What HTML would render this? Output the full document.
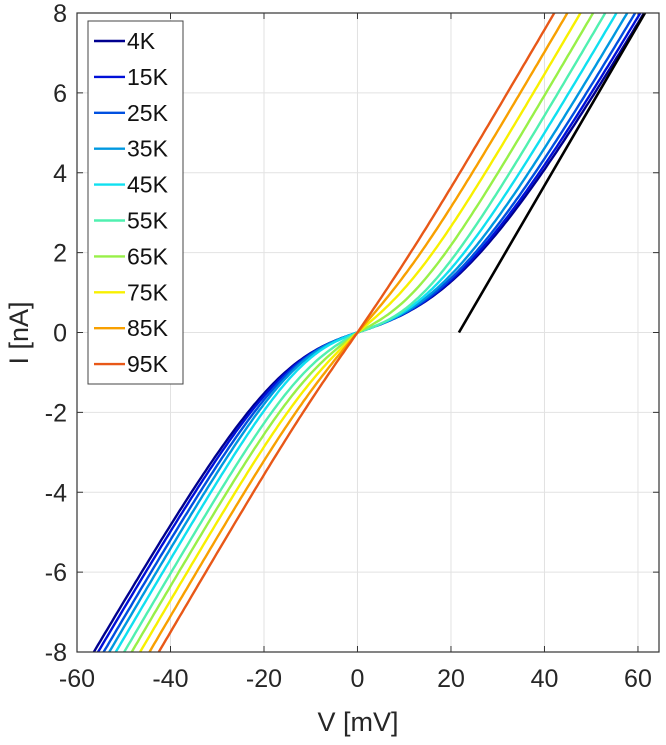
<!DOCTYPE html>
<html><head><meta charset="utf-8"><style>
html,body{margin:0;padding:0;background:#fff;width:666px;height:745px;overflow:hidden;}
svg{display:block;font-family:"Liberation Sans",Arial,sans-serif;}
</style></head><body>
<svg id="chart" width="666" height="745" viewBox="0 0 666 745"></svg>
<script>
const temps=["4K","15K","25K","35K","45K","55K","65K","75K","85K","95K"];
const colors=["#00008f","#0010d8","#0050e0","#0098e0","#10e0f0","#50f0b0","#98f048","#f8f000","#f8a000","#e85818"];
// voltage where each curve reaches +8 nA and -8 nA
const vAtPlus8=[61.3,60.5,59.4,57.7,55.4,53.0,50.4,47.7,44.9,42.1];
const vAtMinus8=[-56.4,-55.5,-54.3,-53.1,-51.7,-49.9,-48.3,-46.5,-44.5,-42.5];
const conductance=[0.2];
const refLineV=[21.7,61.5];
const refLineI=[0,8];
const xTicks=[-60,-40,-20,0,20,40,60];
const yTicks=[-8,-6,-4,-2,0,2,4,6,8];

const NS="http://www.w3.org/2000/svg";
const svg=document.getElementById('chart');
const L=77,R=659,T=13,B=652;
const xMin=-60,xMax=64.5,yMin=-8,yMax=8;
const X=v=>L+(v-xMin)/(xMax-xMin)*(R-L);
const Y=i=>B-(i-yMin)/(yMax-yMin)*(B-T);
function mk(tag,attrs,parent){const e=document.createElementNS(NS,tag);for(const k in attrs)e.setAttribute(k,attrs[k]);(parent||svg).appendChild(e);return e;}

const defs=mk('defs',{});
const cp=mk('clipPath',{id:'pc'},defs);
mk('rect',{x:L,y:T,width:R-L,height:B-T},cp);

xTicks.forEach(v=>{const g=mk('line',{x1:X(v),x2:X(v),y1:T,y2:B,stroke:'#e2e2e2','stroke-width':1});


mk('line',{x1:X(v),x2:X(v),y1:B,y2:B-6,stroke:'#333','stroke-width':1});
mk('line',{x1:X(v),x2:X(v),y1:T,y2:T+6,stroke:'#333','stroke-width':1});
const t=mk('text',{x:X(v),y:B+35,'text-anchor':'middle','font-size':25,fill:'#262626'});t.textContent=v;

});
yTicks.forEach(i=>{const g=mk('line',{x1:L,x2:R,y1:Y(i),y2:Y(i),stroke:'#e2e2e2','stroke-width':1});


mk('line',{x1:L,x2:L+6,y1:Y(i),y2:Y(i),stroke:'#333','stroke-width':1});
mk('line',{x1:R,x2:R-6,y1:Y(i),y2:Y(i),stroke:'#333','stroke-width':1});
const t=mk('text',{x:L-10,y:Y(i)+9,'text-anchor':'end','font-size':25,fill:'#262626'});t.textContent=i;

});

const G=conductance[0];
const target=8/G;
function widthFor(a){return Math.max(a/0.8,15);}
function solveA(v8){
  const V=Math.abs(v8);
  let lo=0,hi=V;
  for(let n=0;n<60;n++){
    const a=(lo+hi)/2;
    const val=V-a*Math.tanh(V/widthFor(a));
    if(val>target)lo=a;else hi=a;
  }
  return (lo+hi)/2;
}
const plotG=mk('g',{'clip-path':'url(#pc)'});


temps.forEach((tn,k)=>{
  const ap=solveA(vAtPlus8[k]);
  const an=solveA(vAtMinus8[k]);
  let d='';
  for(let v=-62;v<=66;v+=0.5){
    const a=v>=0?ap:an;
    const cur=G*(v-a*Math.tanh(v/widthFor(a)));
    d+=(d?'L':'M')+X(v).toFixed(1)+','+Y(cur).toFixed(1);
  }
  const p=mk('path',{d:d,fill:'none',stroke:colors[k],'stroke-width':2.4},plotG);
  
  
});
const rl=mk('line',{x1:X(refLineV[0]),y1:Y(refLineI[0]),x2:X(refLineV[1]),y2:Y(refLineI[1]),stroke:'#000','stroke-width':2.6},plotG);



const box=mk('rect',{x:L,y:T,width:R-L,height:B-T,fill:'none',stroke:'#333','stroke-width':1.2});



const lg=mk('g',{});


mk('rect',{x:88,y:21,width:95,height:363,fill:'#fff',stroke:'#444','stroke-width':1},lg);
temps.forEach((tn,k)=>{
  const y=41+k*35.9;
  const e=mk('g',{},lg);
  
  
  mk('line',{x1:94,x2:125,y1:y,y2:y,stroke:colors[k],'stroke-width':2.4},e);
  const t=mk('text',{x:127,y:y+8,'font-size':23,fill:'#111'},e);t.textContent=tn;
});

const xl=mk('text',{x:358,y:731,'text-anchor':'middle','font-size':27,fill:'#262626'});xl.textContent='V [mV]';


const yl=mk('text',{x:0,y:0,'text-anchor':'middle','font-size':27,fill:'#262626',transform:'translate(28,333) rotate(-90)'});yl.textContent='I [nA]';


</script>
</body></html>
